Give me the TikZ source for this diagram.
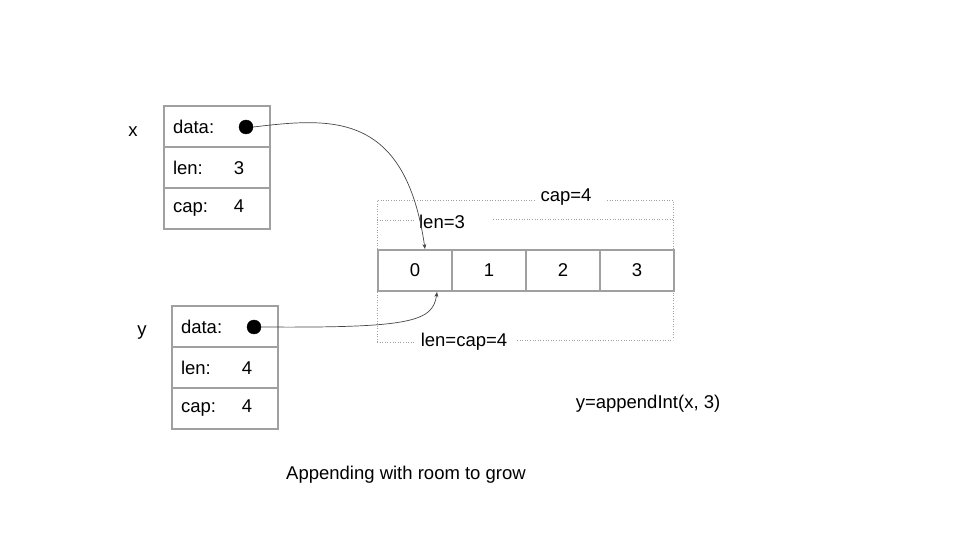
\documentclass[tikz,border=0pt]{standalone}
\usepackage{fontspec}
\setmainfont{Liberation Sans}
\usepackage{xcolor}
\usetikzlibrary{positioning,arrows.meta}
\definecolor{boxgray}{RGB}{160, 160, 160}
\definecolor{guidegray}{RGB}{160, 160, 160}
\definecolor{pointgray}{RGB}{70, 70, 70}

\begin{document}
\begin{tikzpicture}[
    x=1pt, y=-1pt,
    font=\fontsize{18.5}{21}\selectfont,
    node distance=-2pt,
    field/.style={rectangle, draw=boxgray, line width=2pt, minimum width=106pt,
                  minimum height=41pt, text width=88pt, inner xsep=9pt, align=left},
    cell/.style={rectangle, draw=boxgray, line width=2pt, minimum width=74pt,
                 minimum height=41pt, align=center},
    ptr/.style={circle, fill=black, draw=black, inner sep=0pt, minimum size=14pt},
    guide/.style={dotted, line width=0.6pt, color=guidegray},
    arrow/.style={-{Stealth[length=5pt,width=4pt]}, line width=0.7pt, color=pointgray}
]
    \useasboundingbox (0,0) rectangle (960,540);

    % slice header x
    \node (xname) at (133,132) {x};
    \node[field] (xdata) at (217,126.5) {data:};
    \node[field, below=of xdata] (xlen) {\makebox[61pt][l]{len:}3};
    \node[field, below=of xlen]  (xcap) {\makebox[61pt][l]{cap:}4};
    \node[ptr] (xptr) at (246,127) {};

    % slice header y
    \node (yname) at (142,333) {y};
    \node[field] (ydata) at (225,326.5) {data:};
    \node[field, below=of ydata] (ylen) {\makebox[61pt][l]{len:}4};
    \node[field, below=of ylen]  (ycap) {\makebox[61pt][l]{cap:}4};
    \node[ptr] (yptr) at (254,327) {};

    % backing array
    \foreach \i in {0,...,3}
        \node[cell] (c\i) at ({415+74*\i},270.5) {\i};

    % len / cap guides
    \node (capl) at (566,197) {cap=4};
    \node (lenl) at (442,222) {len=3};
    \node (lencapl) at (464,342) {len=cap=4};
    \draw[guide] (377,342) -- (377,200) -- (535,200);
    \draw[guide] (607,200) -- (673,200) -- (673,337);
    \draw[guide] (377,220) -- (415,220);
    \draw[guide] (493,219) -- (673,219);
    \draw[guide] (377,342) -- (415,342);
    \draw[guide] (517,340) -- (673,340);

    % pointers
    \draw[arrow] (xptr.east) .. controls (330,118) and (405,110) .. ([xshift=10pt]c0.north);
    \draw[arrow] (yptr.east) .. controls (410,328) and (433,322) .. ([xshift=22pt]c0.south);

    \node (call) at (648,404) {y=appendInt(x, 3)};
    \node (caption) at (406,475) {Appending with room to grow};
\end{tikzpicture}
\end{document}
